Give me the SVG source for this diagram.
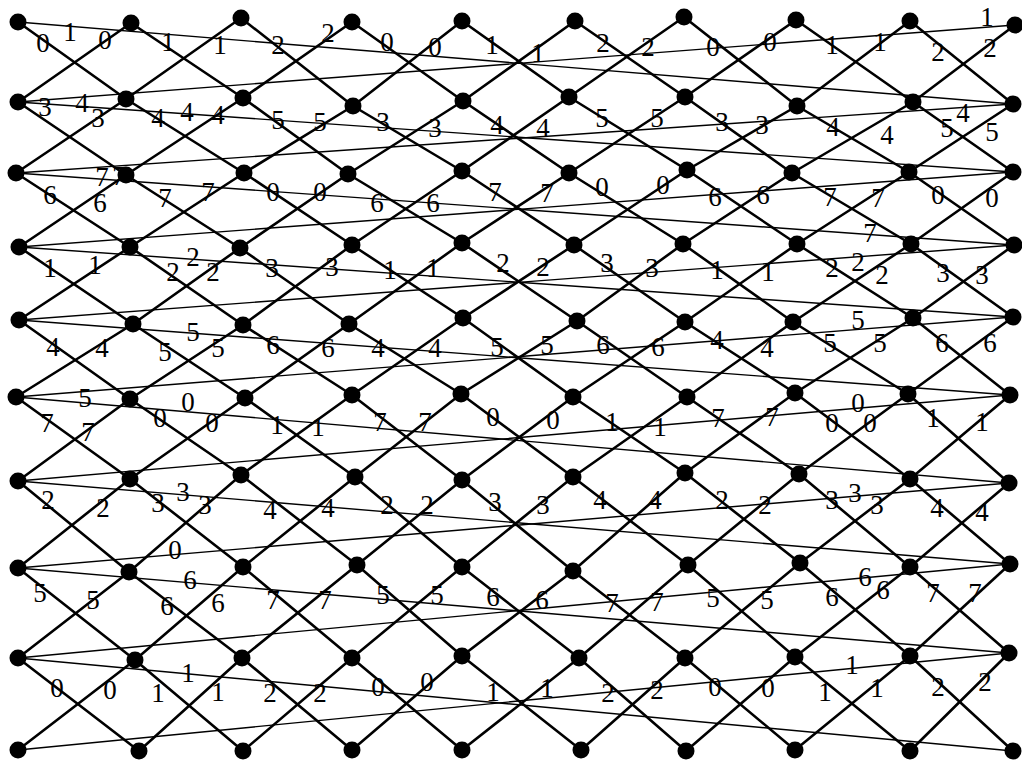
<svg xmlns="http://www.w3.org/2000/svg" width="1022" height="765" viewBox="0 0 1022 765">
<style>
.d{stroke:#000;stroke-width:2.6;fill:none;stroke-linecap:round}
.w{stroke:#000;stroke-width:1.4;fill:none}
.l{font-family:"Liberation Serif","Times New Roman",serif;font-size:27px;fill:#000;text-anchor:middle}
.n{fill:#000}
</style>
<rect width="1022" height="765" fill="#fff"/>
<g id="connectors">
<line class="w" x1="18" y1="22" x2="1013" y2="104"/><line class="w" x1="18" y1="102" x2="1015" y2="25"/>
<line class="w" x1="18" y1="102" x2="1013" y2="172"/><line class="w" x1="16" y1="173" x2="1013" y2="104"/>
<line class="w" x1="16" y1="173" x2="1014" y2="245"/><line class="w" x1="19" y1="247" x2="1013" y2="172"/>
<line class="w" x1="19" y1="247" x2="1013" y2="317"/><line class="w" x1="19" y1="320" x2="1014" y2="245"/>
<line class="w" x1="19" y1="320" x2="1010" y2="395"/><line class="w" x1="16" y1="397" x2="1013" y2="317"/>
<line class="w" x1="16" y1="397" x2="1009" y2="483"/><line class="w" x1="18" y1="481" x2="1010" y2="395"/>
<line class="w" x1="18" y1="481" x2="1010" y2="564"/><line class="w" x1="18" y1="568" x2="1009" y2="483"/>
<line class="w" x1="18" y1="568" x2="1009" y2="653"/><line class="w" x1="18" y1="658" x2="1010" y2="564"/>
<line class="w" x1="18" y1="658" x2="1013" y2="751"/><line class="w" x1="18" y1="750" x2="1009" y2="653"/>

<line class="d" x1="18" y1="22" x2="126" y2="99"/><line class="d" x1="18" y1="102" x2="131" y2="23"/>
<line class="d" x1="131" y1="23" x2="243" y2="98"/><line class="d" x1="126" y1="99" x2="241" y2="18"/>
<line class="d" x1="241" y1="18" x2="353" y2="106"/><line class="d" x1="243" y1="98" x2="352" y2="22"/>
<line class="d" x1="352" y1="22" x2="463" y2="101"/><line class="d" x1="353" y1="106" x2="462" y2="21"/>
<line class="d" x1="462" y1="21" x2="569" y2="97"/><line class="d" x1="463" y1="101" x2="575" y2="21"/>
<line class="d" x1="575" y1="21" x2="685" y2="97"/><line class="d" x1="569" y1="97" x2="684" y2="17"/>
<line class="d" x1="684" y1="17" x2="797" y2="106"/><line class="d" x1="685" y1="97" x2="796" y2="20"/>
<line class="d" x1="796" y1="20" x2="913" y2="102"/><line class="d" x1="797" y1="106" x2="910" y2="21"/>
<line class="d" x1="910" y1="21" x2="1013" y2="104"/><line class="d" x1="913" y1="102" x2="1015" y2="25"/>

<line class="d" x1="18" y1="102" x2="126" y2="175"/><line class="d" x1="16" y1="173" x2="126" y2="99"/>
<line class="d" x1="126" y1="99" x2="244" y2="173"/><line class="d" x1="126" y1="175" x2="243" y2="98"/>
<line class="d" x1="243" y1="98" x2="348" y2="174"/><line class="d" x1="244" y1="173" x2="353" y2="106"/>
<line class="d" x1="353" y1="106" x2="462" y2="171"/><line class="d" x1="348" y1="174" x2="463" y2="101"/>
<line class="d" x1="463" y1="101" x2="569" y2="173"/><line class="d" x1="462" y1="171" x2="569" y2="97"/>
<line class="d" x1="569" y1="97" x2="687" y2="170"/><line class="d" x1="569" y1="173" x2="685" y2="97"/>
<line class="d" x1="685" y1="97" x2="792" y2="173"/><line class="d" x1="687" y1="170" x2="797" y2="106"/>
<line class="d" x1="797" y1="106" x2="909" y2="172"/><line class="d" x1="792" y1="173" x2="913" y2="102"/>
<line class="d" x1="913" y1="102" x2="1013" y2="172"/><line class="d" x1="909" y1="172" x2="1013" y2="104"/>

<line class="d" x1="16" y1="173" x2="130" y2="247"/><line class="d" x1="19" y1="247" x2="126" y2="175"/>
<line class="d" x1="126" y1="175" x2="240" y2="248"/><line class="d" x1="130" y1="247" x2="244" y2="173"/>
<line class="d" x1="244" y1="173" x2="352" y2="245"/><line class="d" x1="240" y1="248" x2="348" y2="174"/>
<line class="d" x1="348" y1="174" x2="462" y2="243"/><line class="d" x1="352" y1="245" x2="462" y2="171"/>
<line class="d" x1="462" y1="171" x2="574" y2="245"/><line class="d" x1="462" y1="243" x2="569" y2="173"/>
<line class="d" x1="569" y1="173" x2="683" y2="244"/><line class="d" x1="574" y1="245" x2="687" y2="170"/>
<line class="d" x1="687" y1="170" x2="797" y2="244"/><line class="d" x1="683" y1="244" x2="792" y2="173"/>
<line class="d" x1="792" y1="173" x2="911" y2="244"/><line class="d" x1="797" y1="244" x2="909" y2="172"/>
<line class="d" x1="909" y1="172" x2="1014" y2="245"/><line class="d" x1="911" y1="244" x2="1013" y2="172"/>

<line class="d" x1="19" y1="247" x2="133" y2="324"/><line class="d" x1="19" y1="320" x2="130" y2="247"/>
<line class="d" x1="130" y1="247" x2="243" y2="325"/><line class="d" x1="133" y1="324" x2="240" y2="248"/>
<line class="d" x1="240" y1="248" x2="349" y2="324"/><line class="d" x1="243" y1="325" x2="352" y2="245"/>
<line class="d" x1="352" y1="245" x2="463" y2="318"/><line class="d" x1="349" y1="324" x2="462" y2="243"/>
<line class="d" x1="462" y1="243" x2="577" y2="321"/><line class="d" x1="463" y1="318" x2="574" y2="245"/>
<line class="d" x1="574" y1="245" x2="685" y2="322"/><line class="d" x1="577" y1="321" x2="683" y2="244"/>
<line class="d" x1="683" y1="244" x2="793" y2="322"/><line class="d" x1="685" y1="322" x2="797" y2="244"/>
<line class="d" x1="797" y1="244" x2="913" y2="318"/><line class="d" x1="793" y1="322" x2="911" y2="244"/>
<line class="d" x1="911" y1="244" x2="1013" y2="317"/><line class="d" x1="913" y1="318" x2="1014" y2="245"/>

<line class="d" x1="19" y1="320" x2="130" y2="399"/><line class="d" x1="16" y1="397" x2="133" y2="324"/>
<line class="d" x1="133" y1="324" x2="245" y2="398"/><line class="d" x1="130" y1="399" x2="243" y2="325"/>
<line class="d" x1="243" y1="325" x2="352" y2="395"/><line class="d" x1="245" y1="398" x2="349" y2="324"/>
<line class="d" x1="349" y1="324" x2="461" y2="394"/><line class="d" x1="352" y1="395" x2="463" y2="318"/>
<line class="d" x1="463" y1="318" x2="573" y2="397"/><line class="d" x1="461" y1="394" x2="577" y2="321"/>
<line class="d" x1="577" y1="321" x2="687" y2="397"/><line class="d" x1="573" y1="397" x2="685" y2="322"/>
<line class="d" x1="685" y1="322" x2="795" y2="393"/><line class="d" x1="687" y1="397" x2="793" y2="322"/>
<line class="d" x1="793" y1="322" x2="908" y2="394"/><line class="d" x1="795" y1="393" x2="913" y2="318"/>
<line class="d" x1="913" y1="318" x2="1010" y2="395"/><line class="d" x1="908" y1="394" x2="1013" y2="317"/>

<line class="d" x1="16" y1="397" x2="130" y2="479"/><line class="d" x1="18" y1="481" x2="130" y2="399"/>
<line class="d" x1="130" y1="399" x2="241" y2="475"/><line class="d" x1="130" y1="479" x2="245" y2="398"/>
<line class="d" x1="245" y1="398" x2="355" y2="477"/><line class="d" x1="241" y1="475" x2="352" y2="395"/>
<line class="d" x1="352" y1="395" x2="462" y2="480"/><line class="d" x1="355" y1="477" x2="461" y2="394"/>
<line class="d" x1="461" y1="394" x2="573" y2="477"/><line class="d" x1="462" y1="480" x2="573" y2="397"/>
<line class="d" x1="573" y1="397" x2="685" y2="473"/><line class="d" x1="573" y1="477" x2="687" y2="397"/>
<line class="d" x1="687" y1="397" x2="799" y2="474"/><line class="d" x1="685" y1="473" x2="795" y2="393"/>
<line class="d" x1="795" y1="393" x2="910" y2="479"/><line class="d" x1="799" y1="474" x2="908" y2="394"/>
<line class="d" x1="908" y1="394" x2="1009" y2="483"/><line class="d" x1="910" y1="479" x2="1010" y2="395"/>

<line class="d" x1="18" y1="481" x2="129" y2="572"/><line class="d" x1="18" y1="568" x2="130" y2="479"/>
<line class="d" x1="130" y1="479" x2="243" y2="567"/><line class="d" x1="129" y1="572" x2="241" y2="475"/>
<line class="d" x1="241" y1="475" x2="357" y2="565"/><line class="d" x1="243" y1="567" x2="355" y2="477"/>
<line class="d" x1="355" y1="477" x2="462" y2="567"/><line class="d" x1="357" y1="565" x2="462" y2="480"/>
<line class="d" x1="462" y1="480" x2="573" y2="571"/><line class="d" x1="462" y1="567" x2="573" y2="477"/>
<line class="d" x1="573" y1="477" x2="688" y2="565"/><line class="d" x1="573" y1="571" x2="685" y2="473"/>
<line class="d" x1="685" y1="473" x2="800" y2="563"/><line class="d" x1="688" y1="565" x2="799" y2="474"/>
<line class="d" x1="799" y1="474" x2="910" y2="567"/><line class="d" x1="800" y1="563" x2="910" y2="479"/>
<line class="d" x1="910" y1="479" x2="1010" y2="564"/><line class="d" x1="910" y1="567" x2="1009" y2="483"/>

<line class="d" x1="18" y1="568" x2="135" y2="660"/><line class="d" x1="18" y1="658" x2="129" y2="572"/>
<line class="d" x1="129" y1="572" x2="242" y2="658"/><line class="d" x1="135" y1="660" x2="243" y2="567"/>
<line class="d" x1="243" y1="567" x2="352" y2="658"/><line class="d" x1="242" y1="658" x2="357" y2="565"/>
<line class="d" x1="357" y1="565" x2="462" y2="656"/><line class="d" x1="352" y1="658" x2="462" y2="567"/>
<line class="d" x1="462" y1="567" x2="579" y2="658"/><line class="d" x1="462" y1="656" x2="573" y2="571"/>
<line class="d" x1="573" y1="571" x2="685" y2="658"/><line class="d" x1="579" y1="658" x2="688" y2="565"/>
<line class="d" x1="688" y1="565" x2="795" y2="657"/><line class="d" x1="685" y1="658" x2="800" y2="563"/>
<line class="d" x1="800" y1="563" x2="910" y2="656"/><line class="d" x1="795" y1="657" x2="910" y2="567"/>
<line class="d" x1="910" y1="567" x2="1009" y2="653"/><line class="d" x1="910" y1="656" x2="1010" y2="564"/>

<line class="d" x1="18" y1="658" x2="139" y2="751"/><line class="d" x1="18" y1="750" x2="135" y2="660"/>
<line class="d" x1="135" y1="660" x2="243" y2="751"/><line class="d" x1="139" y1="751" x2="242" y2="658"/>
<line class="d" x1="242" y1="658" x2="352" y2="750"/><line class="d" x1="243" y1="751" x2="352" y2="658"/>
<line class="d" x1="352" y1="658" x2="462" y2="750"/><line class="d" x1="352" y1="750" x2="462" y2="656"/>
<line class="d" x1="462" y1="656" x2="581" y2="750"/><line class="d" x1="462" y1="750" x2="579" y2="658"/>
<line class="d" x1="579" y1="658" x2="686" y2="751"/><line class="d" x1="581" y1="750" x2="685" y2="658"/>
<line class="d" x1="685" y1="658" x2="795" y2="750"/><line class="d" x1="686" y1="751" x2="795" y2="657"/>
<line class="d" x1="795" y1="657" x2="910" y2="751"/><line class="d" x1="795" y1="750" x2="910" y2="656"/>
<line class="d" x1="910" y1="656" x2="1013" y2="751"/><line class="d" x1="910" y1="751" x2="1009" y2="653"/>
</g>
<g id="labels" class="l" transform="translate(0,1)">
<text x="43" y="51">0</text><text x="105" y="48">0</text><text x="168" y="50">1</text><text x="220" y="53">1</text><text x="278" y="53">2</text><text x="328" y="41">2</text><text x="387" y="50">0</text><text x="435" y="55">0</text><text x="492" y="53">1</text><text x="538" y="61">1</text><text x="603" y="51">2</text><text x="648" y="55">2</text><text x="713" y="55">0</text><text x="770" y="50">0</text><text x="832" y="53">1</text><text x="880" y="50">1</text><text x="938" y="60">2</text><text x="990" y="56">2</text>
<text x="45" y="115">3</text><text x="98" y="126">3</text><text x="158" y="126">4</text><text x="218" y="123">4</text><text x="278" y="128">5</text><text x="320" y="130">5</text><text x="383" y="130">3</text><text x="435" y="136">3</text><text x="497" y="133">4</text><text x="543" y="136">4</text><text x="602" y="126">5</text><text x="657" y="126">5</text><text x="722" y="130">3</text><text x="762" y="133">3</text><text x="833" y="135">4</text><text x="887" y="143">4</text><text x="947" y="136">5</text><text x="992" y="140">5</text>
<text x="50" y="203">6</text><text x="100" y="211">6</text><text x="165" y="206">7</text><text x="208" y="200">7</text><text x="273" y="200">0</text><text x="320" y="200">0</text><text x="377" y="211">6</text><text x="433" y="211">6</text><text x="495" y="200">7</text><text x="547" y="201">7</text><text x="602" y="195">0</text><text x="663" y="193">0</text><text x="715" y="205">6</text><text x="763" y="203">6</text><text x="830" y="205">7</text><text x="878" y="206">7</text><text x="938" y="203">0</text><text x="992" y="206">0</text>
<text x="50" y="276">1</text><text x="95" y="273">1</text><text x="173" y="280">2</text><text x="213" y="280">2</text><text x="272" y="276">3</text><text x="332" y="275">3</text><text x="390" y="278">1</text><text x="433" y="276">1</text><text x="503" y="271">2</text><text x="543" y="275">2</text><text x="607" y="271">3</text><text x="652" y="276">3</text><text x="717" y="278">1</text><text x="768" y="280">1</text><text x="832" y="276">2</text><text x="882" y="283">2</text><text x="943" y="281">3</text><text x="982" y="283">3</text>
<text x="53" y="355">4</text><text x="102" y="356">4</text><text x="165" y="360">5</text><text x="218" y="356">5</text><text x="273" y="353">6</text><text x="328" y="356">6</text><text x="378" y="356">4</text><text x="435" y="356">4</text><text x="497" y="355">5</text><text x="547" y="353">5</text><text x="603" y="353">6</text><text x="658" y="355">6</text><text x="717" y="348">4</text><text x="767" y="356">4</text><text x="830" y="351">5</text><text x="880" y="351">5</text><text x="942" y="351">6</text><text x="990" y="351">6</text>
<text x="47" y="431">7</text><text x="88" y="440">7</text><text x="160" y="426">0</text><text x="212" y="431">0</text><text x="277" y="433">1</text><text x="318" y="435">1</text><text x="380" y="430">7</text><text x="425" y="430">7</text><text x="493" y="425">0</text><text x="553" y="428">0</text><text x="612" y="430">1</text><text x="660" y="435">1</text><text x="718" y="426">7</text><text x="772" y="425">7</text><text x="832" y="431">0</text><text x="870" y="431">0</text><text x="933" y="426">1</text><text x="982" y="430">1</text>
<text x="48" y="508">2</text><text x="103" y="516">2</text><text x="158" y="511">3</text><text x="205" y="513">3</text><text x="270" y="518">4</text><text x="328" y="516">4</text><text x="387" y="513">2</text><text x="427" y="513">2</text><text x="495" y="510">3</text><text x="543" y="513">3</text><text x="600" y="508">4</text><text x="655" y="508">4</text><text x="722" y="508">2</text><text x="765" y="513">2</text><text x="832" y="508">3</text><text x="877" y="513">3</text><text x="937" y="516">4</text><text x="982" y="520">4</text>
<text x="40" y="601">5</text><text x="93" y="608">5</text><text x="167" y="614">6</text><text x="218" y="611">6</text><text x="273" y="608">7</text><text x="325" y="608">7</text><text x="383" y="603">5</text><text x="437" y="603">5</text><text x="493" y="605">6</text><text x="542" y="608">6</text><text x="612" y="611">7</text><text x="657" y="610">7</text><text x="713" y="606">5</text><text x="767" y="608">5</text><text x="832" y="605">6</text><text x="883" y="598">6</text><text x="933" y="601">7</text><text x="975" y="601">7</text>
<text x="57" y="696">0</text><text x="110" y="698">0</text><text x="158" y="701">1</text><text x="218" y="700">1</text><text x="270" y="701">2</text><text x="320" y="701">2</text><text x="378" y="695">0</text><text x="427" y="690">0</text><text x="493" y="700">1</text><text x="547" y="696">1</text><text x="608" y="701">2</text><text x="657" y="698">2</text><text x="715" y="695">0</text><text x="768" y="696">0</text><text x="825" y="700">1</text><text x="877" y="696">1</text><text x="938" y="695">2</text><text x="985" y="690">2</text>
<text x="70" y="40">1</text><text x="987" y="25">1</text>
<text x="82" y="111">4</text><text x="187" y="120">4</text><text x="963" y="121">4</text>
<text x="102" y="185">7</text><text x="119" y="184">7</text><text x="870" y="241">7</text>
<text x="193" y="265">2</text><text x="858" y="270">2</text>
<text x="193" y="340">5</text><text x="858" y="328">5</text>
<text x="85" y="406">5</text><text x="188" y="410">0</text><text x="858" y="411">0</text>
<text x="183" y="500">3</text><text x="855" y="501">3</text>
<text x="175" y="558">0</text><text x="190" y="588">6</text><text x="865" y="585">6</text>
<text x="188" y="681">1</text><text x="852" y="673">1</text>
</g>
<g id="nodes">
<g id="n0_0"><circle class="n" cx="18" cy="22" r="8.5"/></g><g id="n0_1"><circle class="n" cx="131" cy="23" r="8.5"/></g><g id="n0_2"><circle class="n" cx="241" cy="18" r="8.5"/></g><g id="n0_3"><circle class="n" cx="352" cy="22" r="8.5"/></g><g id="n0_4"><circle class="n" cx="462" cy="21" r="8.5"/></g><g id="n0_5"><circle class="n" cx="575" cy="21" r="8.5"/></g><g id="n0_6"><circle class="n" cx="684" cy="17" r="8.5"/></g><g id="n0_7"><circle class="n" cx="796" cy="20" r="8.5"/></g><g id="n0_8"><circle class="n" cx="910" cy="21" r="8.5"/></g><g id="n0_9"><circle class="n" cx="1015" cy="25" r="8.5"/></g>
<g id="n1_0"><circle class="n" cx="18" cy="102" r="8.5"/></g><g id="n1_1"><circle class="n" cx="126" cy="99" r="8.5"/></g><g id="n1_2"><circle class="n" cx="243" cy="98" r="8.5"/></g><g id="n1_3"><circle class="n" cx="353" cy="106" r="8.5"/></g><g id="n1_4"><circle class="n" cx="463" cy="101" r="8.5"/></g><g id="n1_5"><circle class="n" cx="569" cy="97" r="8.5"/></g><g id="n1_6"><circle class="n" cx="685" cy="97" r="8.5"/></g><g id="n1_7"><circle class="n" cx="797" cy="106" r="8.5"/></g><g id="n1_8"><circle class="n" cx="913" cy="102" r="8.5"/></g><g id="n1_9"><circle class="n" cx="1013" cy="104" r="8.5"/></g>
<g id="n2_0"><circle class="n" cx="16" cy="173" r="8.5"/></g><g id="n2_1"><circle class="n" cx="126" cy="175" r="8.5"/></g><g id="n2_2"><circle class="n" cx="244" cy="173" r="8.5"/></g><g id="n2_3"><circle class="n" cx="348" cy="174" r="8.5"/></g><g id="n2_4"><circle class="n" cx="462" cy="171" r="8.5"/></g><g id="n2_5"><circle class="n" cx="569" cy="173" r="8.5"/></g><g id="n2_6"><circle class="n" cx="687" cy="170" r="8.5"/></g><g id="n2_7"><circle class="n" cx="792" cy="173" r="8.5"/></g><g id="n2_8"><circle class="n" cx="909" cy="172" r="8.5"/></g><g id="n2_9"><circle class="n" cx="1013" cy="172" r="8.5"/></g>
<g id="n3_0"><circle class="n" cx="19" cy="247" r="8.5"/></g><g id="n3_1"><circle class="n" cx="130" cy="247" r="8.5"/></g><g id="n3_2"><circle class="n" cx="240" cy="248" r="8.5"/></g><g id="n3_3"><circle class="n" cx="352" cy="245" r="8.5"/></g><g id="n3_4"><circle class="n" cx="462" cy="243" r="8.5"/></g><g id="n3_5"><circle class="n" cx="574" cy="245" r="8.5"/></g><g id="n3_6"><circle class="n" cx="683" cy="244" r="8.5"/></g><g id="n3_7"><circle class="n" cx="797" cy="244" r="8.5"/></g><g id="n3_8"><circle class="n" cx="911" cy="244" r="8.5"/></g><g id="n3_9"><circle class="n" cx="1014" cy="245" r="8.5"/></g>
<g id="n4_0"><circle class="n" cx="19" cy="320" r="8.5"/></g><g id="n4_1"><circle class="n" cx="133" cy="324" r="8.5"/></g><g id="n4_2"><circle class="n" cx="243" cy="325" r="8.5"/></g><g id="n4_3"><circle class="n" cx="349" cy="324" r="8.5"/></g><g id="n4_4"><circle class="n" cx="463" cy="318" r="8.5"/></g><g id="n4_5"><circle class="n" cx="577" cy="321" r="8.5"/></g><g id="n4_6"><circle class="n" cx="685" cy="322" r="8.5"/></g><g id="n4_7"><circle class="n" cx="793" cy="322" r="8.5"/></g><g id="n4_8"><circle class="n" cx="913" cy="318" r="8.5"/></g><g id="n4_9"><circle class="n" cx="1013" cy="317" r="8.5"/></g>
<g id="n5_0"><circle class="n" cx="16" cy="397" r="8.5"/></g><g id="n5_1"><circle class="n" cx="130" cy="399" r="8.5"/></g><g id="n5_2"><circle class="n" cx="245" cy="398" r="8.5"/></g><g id="n5_3"><circle class="n" cx="352" cy="395" r="8.5"/></g><g id="n5_4"><circle class="n" cx="461" cy="394" r="8.5"/></g><g id="n5_5"><circle class="n" cx="573" cy="397" r="8.5"/></g><g id="n5_6"><circle class="n" cx="687" cy="397" r="8.5"/></g><g id="n5_7"><circle class="n" cx="795" cy="393" r="8.5"/></g><g id="n5_8"><circle class="n" cx="908" cy="394" r="8.5"/></g><g id="n5_9"><circle class="n" cx="1010" cy="395" r="8.5"/></g>
<g id="n6_0"><circle class="n" cx="18" cy="481" r="8.5"/></g><g id="n6_1"><circle class="n" cx="130" cy="479" r="8.5"/></g><g id="n6_2"><circle class="n" cx="241" cy="475" r="8.5"/></g><g id="n6_3"><circle class="n" cx="355" cy="477" r="8.5"/></g><g id="n6_4"><circle class="n" cx="462" cy="480" r="8.5"/></g><g id="n6_5"><circle class="n" cx="573" cy="477" r="8.5"/></g><g id="n6_6"><circle class="n" cx="685" cy="473" r="8.5"/></g><g id="n6_7"><circle class="n" cx="799" cy="474" r="8.5"/></g><g id="n6_8"><circle class="n" cx="910" cy="479" r="8.5"/></g><g id="n6_9"><circle class="n" cx="1009" cy="483" r="8.5"/></g>
<g id="n7_0"><circle class="n" cx="18" cy="568" r="8.5"/></g><g id="n7_1"><circle class="n" cx="129" cy="572" r="8.5"/></g><g id="n7_2"><circle class="n" cx="243" cy="567" r="8.5"/></g><g id="n7_3"><circle class="n" cx="357" cy="565" r="8.5"/></g><g id="n7_4"><circle class="n" cx="462" cy="567" r="8.5"/></g><g id="n7_5"><circle class="n" cx="573" cy="571" r="8.5"/></g><g id="n7_6"><circle class="n" cx="688" cy="565" r="8.5"/></g><g id="n7_7"><circle class="n" cx="800" cy="563" r="8.5"/></g><g id="n7_8"><circle class="n" cx="910" cy="567" r="8.5"/></g><g id="n7_9"><circle class="n" cx="1010" cy="564" r="8.5"/></g>
<g id="n8_0"><circle class="n" cx="18" cy="658" r="8.5"/></g><g id="n8_1"><circle class="n" cx="135" cy="660" r="8.5"/></g><g id="n8_2"><circle class="n" cx="242" cy="658" r="8.5"/></g><g id="n8_3"><circle class="n" cx="352" cy="658" r="8.5"/></g><g id="n8_4"><circle class="n" cx="462" cy="656" r="8.5"/></g><g id="n8_5"><circle class="n" cx="579" cy="658" r="8.5"/></g><g id="n8_6"><circle class="n" cx="685" cy="658" r="8.5"/></g><g id="n8_7"><circle class="n" cx="795" cy="657" r="8.5"/></g><g id="n8_8"><circle class="n" cx="910" cy="656" r="8.5"/></g><g id="n8_9"><circle class="n" cx="1009" cy="653" r="8.5"/></g>
<g id="n9_0"><circle class="n" cx="18" cy="750" r="8.5"/></g><g id="n9_1"><circle class="n" cx="139" cy="751" r="8.5"/></g><g id="n9_2"><circle class="n" cx="243" cy="751" r="8.5"/></g><g id="n9_3"><circle class="n" cx="352" cy="750" r="8.5"/></g><g id="n9_4"><circle class="n" cx="462" cy="750" r="8.5"/></g><g id="n9_5"><circle class="n" cx="581" cy="750" r="8.5"/></g><g id="n9_6"><circle class="n" cx="686" cy="751" r="8.5"/></g><g id="n9_7"><circle class="n" cx="795" cy="750" r="8.5"/></g><g id="n9_8"><circle class="n" cx="910" cy="751" r="8.5"/></g><g id="n9_9"><circle class="n" cx="1013" cy="751" r="8.5"/></g>
</g>
</svg>
